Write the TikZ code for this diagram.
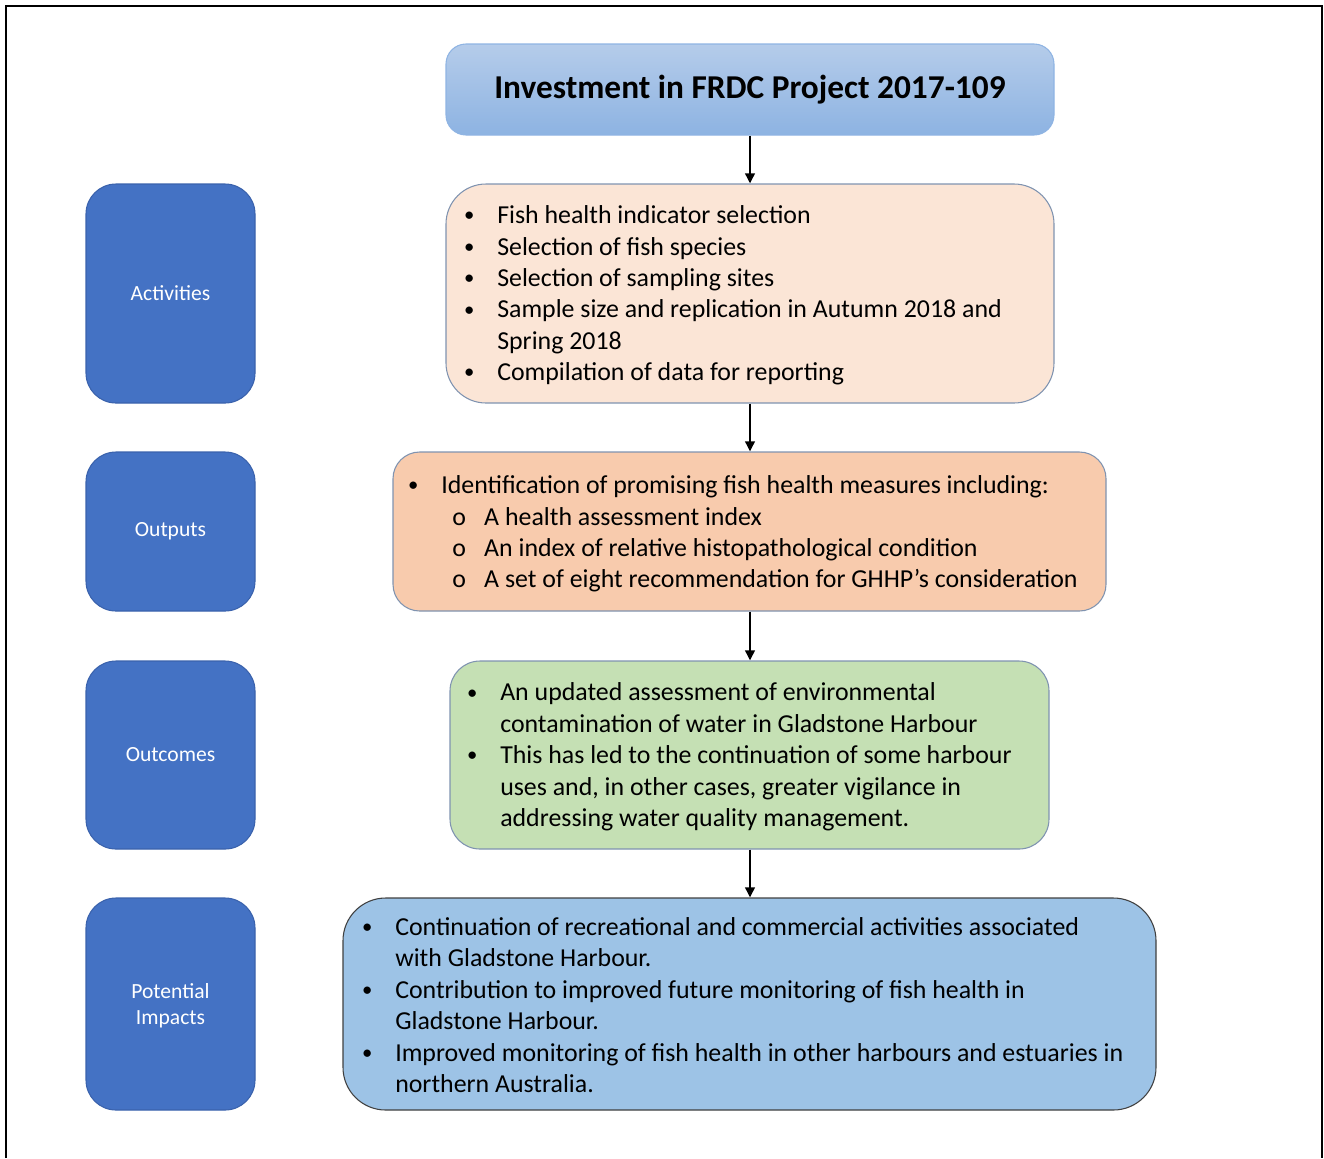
\documentclass[tikz,border=0pt]{standalone}
\usepackage{fontspec}
\setmainfont{Carlito}
\usetikzlibrary{fit,arrows.meta,calc}

% one drawing unit = 0.75pt
\newdimen\pxd \pxd=0.75pt

\definecolor{titletop}{HTML}{B5CCEA}
\definecolor{titlebot}{HTML}{8DB3E2}
\definecolor{titleline}{HTML}{8FB4E3}
\definecolor{actfill}{HTML}{FBE5D6}
\definecolor{outfill}{HTML}{F8CBAD}
\definecolor{outcfill}{HTML}{C5E0B4}
\definecolor{impfill}{HTML}{9DC3E6}
\definecolor{softline}{HTML}{7F93B0}
\definecolor{darkline}{HTML}{404040}
\definecolor{sidefill}{HTML}{4472C4}
\definecolor{sideline}{HTML}{3A62AC}

% bullet, continuation and sub-bullet indents
\newcommand\itembul{\makebox[56\pxd]{\raisebox{0.07em}{\scalebox{0.8}{\textbullet}}}}
\newcommand\itemcont{\hspace*{56\pxd}}
\newcommand\itemsub{\hspace*{49\pxd}\makebox[50\pxd]{o}}

\tikzset{
  framebox/.style={fit=#1, inner sep=0pt, line width=0.8pt},
  sidebox/.style={framebox=#1, fill=sidefill, draw=sideline, rounded corners=22.5pt},
  sidetext/.style={inner sep=0pt, text=white, align=center,
    font=\fontsize{16.2}{19.5}\selectfont},
  bodytext/.style={anchor=west, inner sep=0pt, align=left, text=black,
    font=\fontsize{19.4}{23.55}\selectfont},
  flow/.style={line width=2pt, -{Triangle[width=7pt,length=7.5pt]}}
}

\begin{document}
\begin{tikzpicture}[x=0.75pt,y=-0.75pt]
\useasboundingbox (0,0) rectangle (1324,1158);

% page frame, open at the bottom
\draw[line width=1.5pt] (6,1158) -- (6,6) -- (1322,6) -- (1322,1158);

% corner points of the boxes
\coordinate (ti1) at (446,44);  \coordinate (ti2) at (1054,135);
\coordinate (ac1) at (446,184); \coordinate (ac2) at (1054,403);
\coordinate (ou1) at (393,452); \coordinate (ou2) at (1106,611);
\coordinate (oc1) at (450,661); \coordinate (oc2) at (1049,849);
\coordinate (im1) at (343,898); \coordinate (im2) at (1156,1110);
\coordinate (sa1) at (86,184);  \coordinate (sa2) at (255,403);
\coordinate (so1) at (86,452);  \coordinate (so2) at (255,611);
\coordinate (sc1) at (86,661);  \coordinate (sc2) at (255,849);
\coordinate (si1) at (86,898);  \coordinate (si2) at (255,1110);

% headline box
\node[framebox=(ti1)(ti2), rounded corners=15pt, draw=titleline,
  top color=titletop, bottom color=titlebot] (title) {};
\node[inner sep=0pt, text=black, font=\fontsize{25}{30}\selectfont\bfseries]
  (titletext) at (title.center) {Investment in FRDC Project 2017-109};

% main column
\node[framebox=(ac1)(ac2), rounded corners=30pt, fill=actfill, draw=softline] (act) {};
\node[framebox=(ou1)(ou2), rounded corners=20pt, fill=outfill, draw=softline] (out) {};
\node[framebox=(oc1)(oc2), rounded corners=22.5pt, fill=outcfill, draw=softline] (outc) {};
\node[framebox=(im1)(im2), rounded corners=32pt, fill=impfill, draw=darkline] (imp) {};

\node[bodytext] (acttext) at (441,295.5) {%
\itembul Fish health indicator selection\\
\itembul Selection of fish species\\
\itembul Selection of sampling sites\\
\itembul Sample size and replication in Autumn 2018 and\\
\itemcont Spring 2018\\
\itembul Compilation of data for reporting};

\node[bodytext] (outtext) at (385,534) {%
\itembul Identification of promising fish health measures including:\\
\itemsub A health assessment index\\
\itemsub An index of relative histopathological condition\\
\itemsub A set of eight recommendation for GHHP’s consideration};

\node[bodytext] (outctext) at (444,757) {%
\itembul An updated assessment of environmental\\
\itemcont contamination of water in Gladstone Harbour\\
\itembul This has led to the continuation of some harbour\\
\itemcont uses and, in other cases, greater vigilance in\\
\itemcont addressing water quality management.};

\node[bodytext] (imptext) at (339,1005) {%
\itembul Continuation of recreational and commercial activities associated\\
\itemcont with Gladstone Harbour.\\
\itembul Contribution to improved future monitoring of fish health in\\
\itemcont Gladstone Harbour.\\
\itembul Improved monitoring of fish health in other harbours and estuaries in\\
\itemcont northern Australia.};

% side labels
\node[sidebox=(sa1)(sa2)] (sact) {};
\node[sidebox=(so1)(so2)] (sout) {};
\node[sidebox=(sc1)(sc2)] (soutc) {};
\node[sidebox=(si1)(si2)] (simp) {};
\node[sidetext] (sacttext) at (sact.center) {Activities};
\node[sidetext] (souttext) at (sout.center) {Outputs};
\node[sidetext] (soutctext) at (soutc.center) {Outcomes};
\node[sidetext] (simptext) at ([yshift=-1.5pt]simp.center) {Potential\\Impacts};

% connectors
\draw[flow] (title.south) -- (title.south |- act.north);
\draw[flow] (act.south) -- (act.south |- out.north);
\draw[flow] (act.south |- out.south) -- (act.south |- outc.north);
\draw[flow] (act.south |- outc.south) -- (act.south |- imp.north);
\end{tikzpicture}
\end{document}
